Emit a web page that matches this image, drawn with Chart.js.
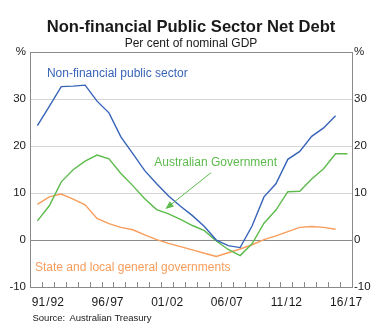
<!DOCTYPE html>
<html>
<head>
<meta charset="utf-8">
<script src="https://cdn.jsdelivr.net/npm/chart.js@4/dist/chart.umd.min.js"></script>
<style>
  html, body { margin: 0; padding: 0; background: #fff; }
  canvas { display: block; }
</style>
</head>
<body>
<canvas id="debt" width="391" height="333"></canvas>
<script>
/* ---- Data: net debt, per cent of nominal GDP, 1990/91 to 2016/17 ---- */
const fiscalYears = [
  "90/91", "91/92", "92/93", "93/94", "94/95", "95/96", "96/97", "97/98", "98/99",
  "99/00", "00/01", "01/02", "02/03", "03/04", "04/05", "05/06", "06/07", "07/08",
  "08/09", "09/10", "10/11", "11/12", "12/13", "13/14", "14/15", "15/16", "16/17",
];
const labelledYears = ["91/92", "96/97", "01/02", "06/07", "11/12", "16/17"];

const nfpsDebt = [
  24.4, 28.5, 32.7, 32.8, 33.0, 29.6, 27.1, 22.0, 18.4, 14.8, 12.0, 9.4, 7.2,
  5.2, 2.9, 0.0, -1.2, -1.6, 3.0, 9.2, 12.0, 17.2, 18.9, 22.1, 23.9, 26.5,
];
const ausGovDebt = [
  4.1, 7.3, 12.4, 15.0, 16.8, 18.1, 17.3, 14.2, 11.6, 8.8, 6.5, 5.6, 4.4,
  3.1, 2.0, -0.2, -2.0, -3.3, -0.8, 3.6, 6.4, 10.3, 10.4, 13.0, 15.2, 18.4, 18.4,
];
const stateLocalDebt = [
  7.6, 9.2, 9.8, 8.7, 7.5, 4.6, 3.5, 2.7, 2.2, 1.1, 0.1, -0.7, -1.4,
  -2.1, -2.8, -3.5, -2.7, -1.9, -1.0, 0.1, 0.9, 1.8, 2.7, 2.9, 2.7, 2.3,
];

const yTicks = [-10, 0, 10, 20, 30, 40];

/* ---- Styling ---- */
const BLUE = "#3864b8";
const GREEN = "#5cbb4c";
const ORANGE = "#f99d5c";
const FRAME = "#8a8a8a";
const GRID = "#d6d6d6";
const TEXT = "#1a1a1a";
const FONT = "Liberation Sans, Arial, Helvetica, sans-serif";

// observations sit a little past the start of each fiscal-year band
const POINT_OFFSET = 0.62;
const toPoints = (arr) => arr.map((v, i) => ({ x: i + POINT_OFFSET, y: v }));

// year labels are set with hair spaces around the slash
const spaced = (s) => s.replace("/", "\u200a/\u200a");

function series(label, data, color) {
  return {
    label,
    data: toPoints(data),
    borderColor: color,
    backgroundColor: color,
    borderWidth: 1.4,
    pointRadius: 0,
    tension: 0,
    fill: false,
  };
}

/* ---- Annotations: year ticks, series labels, arrow, source ---- */
const decorPlugin = {
  id: "decor",
  afterDraw(chart) {
    const { ctx, chartArea, scales } = chart;
    const xs = scales.x;
    const ys = scales.y;
    ctx.save();

    // small year markers along the bottom edge, pointing inward
    ctx.strokeStyle = FRAME;
    ctx.lineWidth = 1;
    ctx.beginPath();
    for (let i = 1; i < fiscalYears.length; i++) {
      const px = Math.round(xs.getPixelForValue(i)) + 0.5;
      ctx.moveTo(px, chartArea.bottom);
      ctx.lineTo(px, chartArea.bottom - 5);
    }
    ctx.stroke();

    // series labels
    ctx.font = "12px " + FONT;
    ctx.textBaseline = "middle";
    ctx.textAlign = "left";
    ctx.fillStyle = BLUE;
    ctx.fillText("Non-financial public sector", xs.getPixelForValue(1.42), ys.getPixelForValue(35.5));
    ctx.fillStyle = GREEN;
    ctx.fillText("Australian Government", xs.getPixelForValue(10.42), ys.getPixelForValue(16.5));
    ctx.fillStyle = ORANGE;
    ctx.fillText("State and local general governments", xs.getPixelForValue(0.42), ys.getPixelForValue(-5.8));

    // arrow from the green label down to its line
    const ax0 = xs.getPixelForValue(15.2), ay0 = ys.getPixelForValue(14.4);
    const ax1 = xs.getPixelForValue(11.35), ay1 = ys.getPixelForValue(6.6);
    const ang = Math.atan2(ay1 - ay0, ax1 - ax0);
    ctx.strokeStyle = GREEN;
    ctx.fillStyle = GREEN;
    ctx.lineWidth = 1;
    ctx.beginPath();
    ctx.moveTo(ax0, ay0);
    ctx.lineTo(ax1 - 6 * Math.cos(ang), ay1 - 6 * Math.sin(ang));
    ctx.stroke();
    ctx.beginPath();
    ctx.moveTo(ax1, ay1);
    ctx.lineTo(ax1 - 9 * Math.cos(ang - 0.38), ay1 - 9 * Math.sin(ang - 0.38));
    ctx.lineTo(ax1 - 9 * Math.cos(ang + 0.38), ay1 - 9 * Math.sin(ang + 0.38));
    ctx.closePath();
    ctx.fill();

    // source note
    ctx.font = "9.5px " + FONT;
    ctx.fillStyle = TEXT;
    ctx.fillText("Source:", 32.5, 318);
    ctx.fillText("Australian Treasury", 69.5, 318);

    ctx.restore();
  },
};

const yTickCallback = (v) => (v === 40 ? "%" : v);

new Chart(document.getElementById("debt"), {
  type: "line",
  data: {
    datasets: [
      series("Non-financial public sector", nfpsDebt, BLUE),
      series("Australian Government", ausGovDebt, GREEN),
      series("State and local general governments", stateLocalDebt, ORANGE),
    ],
  },
  options: {
    responsive: false,
    animation: false,
    layout: { padding: 0 },
    plugins: {
      legend: { display: false },
      tooltip: { enabled: false },
      title: {
        display: true,
        fullSize: false,
        text: "Non-financial Public Sector Net Debt",
        color: TEXT,
        font: { family: FONT, size: 16.6, weight: "bold" },
        padding: { top: 17, bottom: 0 },
      },
      subtitle: {
        display: true,
        fullSize: false,
        text: "Per cent of nominal GDP",
        color: TEXT,
        font: { family: FONT, size: 12 },
        padding: { top: 0, bottom: 1 },
      },
    },
    scales: {
      x: {
        type: "linear",
        min: 0,
        max: fiscalYears.length,
        afterFit: (s) => { s.height = 46; },
        afterBuildTicks: (s) => {
          s.ticks = labelledYears.map((y) => ({ value: fiscalYears.indexOf(y) + 0.5 }));
        },
        grid: { display: false },
        border: { display: true, color: FRAME, width: 1 },
        ticks: {
          autoSkip: false,
          maxRotation: 0,
          padding: 0,
          color: TEXT,
          font: { family: FONT, size: 12 },
          callback: (v) => spaced(fiscalYears[Math.floor(v)]),
        },
      },
      y: {
        position: "left",
        min: -10,
        max: 40,
        afterFit: (s) => { s.width = 30; },
        afterBuildTicks: (s) => { s.ticks = yTicks.map((value) => ({ value })); },
        border: { display: true, color: FRAME, width: 1 },
        grid: {
          drawTicks: false,
          lineWidth: 1,
          color: (c) => (c.tick.value === 0 || c.tick.value === 40 || c.tick.value === -10 ? FRAME : GRID),
        },
        ticks: {
          padding: 4,
          color: TEXT,
          font: { family: FONT, size: 11.5 },
          callback: yTickCallback,
        },
      },
      y2: {
        position: "right",
        min: -10,
        max: 40,
        afterFit: (s) => { s.width = 39; },
        afterBuildTicks: (s) => { s.ticks = yTicks.map((value) => ({ value })); },
        border: { display: true, color: FRAME, width: 1 },
        grid: { drawOnChartArea: false, drawTicks: false },
        ticks: {
          padding: 2,
          color: TEXT,
          font: { family: FONT, size: 11.5 },
          callback: yTickCallback,
        },
      },
    },
  },
  plugins: [decorPlugin],
});
</script>
</body>
</html>
